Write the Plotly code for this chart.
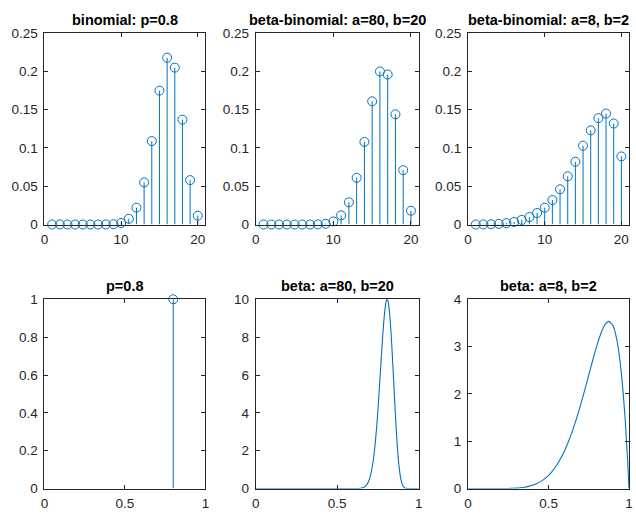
import plotly.graph_objects as go

# ---------------- data ----------------
k = list(range(1, 21))
binom_p08 = [0, 0, 0, 0, 0, 0, 0, 0.0001, 0.0004, 0.002, 0.0074, 0.022, 0.055,
             0.109, 0.175, 0.218, 0.205, 0.137, 0.058, 0.0115]
bb_80_20 = [0, 0, 0, 0, 0, 0, 0, 0.0002, 0.001, 0.004, 0.012, 0.029, 0.061,
            0.108, 0.161, 0.200, 0.196, 0.144, 0.071, 0.018]
bb_8_2 = [0.0, 0.0001, 0.0003, 0.0008, 0.0017, 0.0033, 0.006, 0.0097, 0.015, 0.022,
          0.032, 0.046, 0.063, 0.082, 0.103, 0.123, 0.139, 0.145, 0.132, 0.089]

point_x = [0.8]
point_y = [1.0]

beta80_x = [0, 0.60, 0.62, 0.63, 0.64, 0.65, 0.66, 0.67, 0.68, 0.69, 0.70, 0.71, 0.72, 0.73,
            0.74, 0.75, 0.76, 0.77, 0.78, 0.79, 0.80, 0.806, 0.81, 0.82, 0.83, 0.84, 0.85,
            0.86, 0.87, 0.88, 0.89, 0.90, 0.91, 0.92, 0.93, 0.94, 0.95, 1.0]
beta80_y = [0, 0.0005, 0.003, 0.0075, 0.015, 0.031, 0.06, 0.11, 0.20, 0.34, 0.57, 0.92, 1.43,
            2.14, 3.05, 4.19, 5.49, 6.87, 8.18, 9.24, 9.89, 10.0, 9.95, 9.39, 8.26, 6.72, 5.03,
            3.41, 2.08, 1.12, 0.52, 0.21, 0.067, 0.017, 0.003, 0.0005, 0, 0]

beta8_x = [0, 0.1, 0.2, 0.225, 0.25, 0.275, 0.3, 0.325, 0.35, 0.375, 0.4, 0.425, 0.45, 0.475,
           0.5, 0.525, 0.55, 0.575, 0.6, 0.625, 0.65, 0.675, 0.7, 0.725, 0.75, 0.775, 0.8,
           0.825, 0.85, 0.875, 0.9, 0.925, 0.95, 0.975, 0.99, 1.0]
beta8_y = [0, 0, 0.0007, 0.0016, 0.0033, 0.0062, 0.011, 0.0186, 0.030, 0.047, 0.071, 0.104,
           0.148, 0.206, 0.281, 0.376, 0.493, 0.636, 0.806, 1.006, 1.235, 1.494, 1.779, 2.085,
           2.403, 2.720, 3.020, 3.278, 3.462, 3.534, 3.444, 3.129, 2.514, 1.508, 0.671, 0]

titles = ["binomial: p=0.8", "beta-binomial: a=80, b=20", "beta-binomial: a=8, b=2",
          "p=0.8", "beta: a=80, b=20", "beta: a=8, b=2"]

# ---------------- style ----------------
BLUE = "#0072BD"
AX = "#262626"
W, H = 636, 517
cols_px = [(41, 204), (255, 420), (470, 633)]
rows_px = [(27, 224), (301, 496)]
FAM = "Liberation Sans, Arial, Helvetica, sans-serif"

fig = go.Figure()


def stem(x, y, idx):
    sfx = "" if idx == 1 else str(idx)
    fig.add_trace(go.Scatter(
        x=x, y=y, mode="markers",
        marker=dict(symbol="circle-open", size=9, color=BLUE, line=dict(width=1, color=BLUE)),
        error_y=dict(type="data", symmetric=False, array=[0] * len(y), arrayminus=y,
                     width=0, thickness=1, color=BLUE),
        cliponaxis=False, showlegend=False, hoverinfo="skip",
        xaxis="x" + sfx, yaxis="y" + sfx,
    ))


def curve(x, y, idx):
    fig.add_trace(go.Scatter(
        x=x, y=y, mode="lines", line=dict(color=BLUE, width=1.1, shape="spline", smoothing=0.6),
        cliponaxis=False, showlegend=False, hoverinfo="skip",
        xaxis="x" + str(idx), yaxis="y" + str(idx),
    ))


stem(k, binom_p08, 1)
stem(k, bb_80_20, 2)
stem(k, bb_8_2, 3)
stem(point_x, point_y, 4)
curve(beta80_x, beta80_y, 5)
curve(beta8_x, beta8_y, 6)

top_cfg = dict(xr=[0, 21], xt=[0, 10, 20], xl=["0", "10", "20"],
               yr=[0, 0.25], yt=[0, 0.05, 0.1, 0.15, 0.2, 0.25],
               yl=["0", "0.05", "0.1", "0.15", "0.2", "0.25"])
bottom_cfgs = [
    dict(yr=[0, 1], yt=[0, 0.2, 0.4, 0.6, 0.8, 1], yl=["0", "0.2", "0.4", "0.6", "0.8", "1"]),
    dict(yr=[0, 10], yt=[0, 2, 4, 6, 8, 10], yl=["0", "2", "4", "6", "8", "10"]),
    dict(yr=[0, 4], yt=[0, 1, 2, 3, 4], yl=["0", "1", "2", "3", "4"]),
]

font = dict(family=FAM, size=13.5, color=AX)
layout = {}
annotations = []
for r in range(2):
    for c in range(3):
        idx = r * 3 + c + 1
        x0, x1 = cols_px[c]
        ytop, ybot = rows_px[r]
        if r == 0:
            xr, xt, xl = top_cfg["xr"], top_cfg["xt"], top_cfg["xl"]
            yr, yt, yl = top_cfg["yr"], top_cfg["yt"], top_cfg["yl"]
        else:
            xr, xt, xl = [0, 1], [0, 0.5, 1], ["0", "0.5", "1"]
            bc = bottom_cfgs[c]
            yr, yt, yl = bc["yr"], bc["yt"], bc["yl"]
        sfx = "" if idx == 1 else str(idx)
        common = dict(showline=True, linecolor=AX, linewidth=1, mirror="ticks",
                      ticks="inside", ticklen=4, tickwidth=1, tickcolor=AX,
                      showgrid=False, zeroline=False, tickfont=font, fixedrange=True)
        layout["xaxis" + sfx] = dict(domain=[x0 / W, x1 / W], range=xr, tickvals=xt, ticktext=xl,
                                     anchor="y" + sfx, ticklabelstandoff=2, **common)
        layout["yaxis" + sfx] = dict(domain=[(H - ybot) / H, (H - ytop) / H], range=yr,
                                     tickvals=yt, ticktext=yl, anchor="x" + sfx,
                                     ticklabelstandoff=3, **common)
        annotations.append(dict(
            text="<b>" + titles[idx - 1] + "</b>", xref="paper", yref="paper",
            x=(x0 + x1) / 2 / W, y=(H - (ytop - 14)) / H, xanchor="center", yanchor="middle",
            showarrow=False,
            font=dict(family=FAM, size=14.5, color="#000000"),
        ))

fig.update_layout(width=W, height=H, margin=dict(l=0, r=0, t=0, b=0),
                  paper_bgcolor="white", plot_bgcolor="white", hovermode=False,
                  annotations=annotations, **layout)

fig.write_html("out.html", config={"displayModeBar": False, "staticPlot": True},
               post_script="document.body.style.margin='0';document.body.style.overflow='hidden';")
